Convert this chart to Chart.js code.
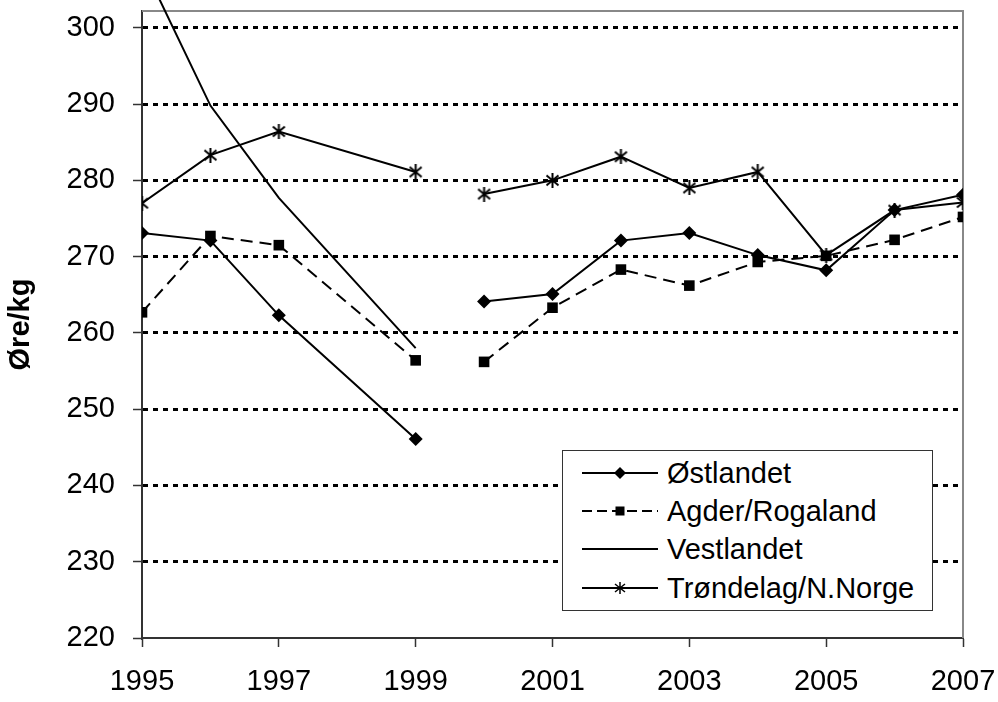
<!DOCTYPE html>
<html>
<head>
<meta charset="utf-8">
<script src="https://cdn.jsdelivr.net/npm/chart.js@4.4.1/dist/chart.umd.min.js"></script>
<style>
  body { margin: 0; background: #fff; font-family: 'Liberation Sans', Arial, sans-serif; }
  #wrap { position: relative; width: 998px; height: 702px; }
  #legend {
    position: absolute; left: 562px; top: 450px; width: 371px; height: 161px;
    box-sizing: border-box; border: 1.5px solid #333; background: #fff;
  }
  .row { position: absolute; left: 0; height: 38px; width: 100%; }
  .row svg { position: absolute; left: 19px; top: 9px; }
  .row span { position: absolute; left: 104px; top: 0; line-height: 38px; font-size: 29px; color: #000; white-space: nowrap; }
</style>
</head>
<body>
<div id="wrap">
  <canvas id="chart" width="998" height="702"></canvas>
  <div id="legend"></div>
</div>
<script>
// Data (øre per kg); 1998 is not in the series
const years = [1995, 1996, 1997, 1999, 2000, 2001, 2002, 2003, 2004, 2005, 2006, 2007];
const ostlandet  = [273.1, 272.1, 262.3, 246.1, 264.1, 265.1, 272.1, 273.1, 270.2, 268.2, 276.1, 278.1];
const agder      = [262.7, 272.7, 271.5, 256.4, 256.2, 263.3, 268.3, 266.2, 269.3, 270.1, 272.2, 275.2];
const vestlandet = [308.5, 289.8, 277.7, 258.0, null, null, null, null, null, null, null, null];
const trondelag  = [277.0, 283.3, 286.4, 281.1, 278.2, 280.0, 283.1, 279.0, 281.1, 270.2, 276.1, 277.1];
const seriesNames = ['Østlandet', 'Agder/Rogaland', 'Vestlandet', 'Trøndelag/N.Norge'];

const yMin = 220, yMax = 302.2, yStep = 10;
const xMin = 1995, xMax = 2007, xStep = 2;
const gapAfter = 1999; // the lines break between 1999 and 2000

const FONT = "'Liberation Sans', Arial, sans-serif";

function toPoints(values) {
    return years.map((x, i) => ({ x: x, y: values[i] }));
}

// no segment drawn across the gap
const breakSegment = ctx => ctx.p0.parsed.x === gapAfter ? 'rgba(0,0,0,0)' : undefined;

// Excel style asterisk marker (X with a vertical bar)
function starMarker() {
    const c = document.createElement('canvas');
    c.width = 15; c.height = 15;
    const g = c.getContext('2d');
    g.strokeStyle = '#000';
    g.lineWidth = 2;
    g.beginPath();
    g.moveTo(7.5, 0); g.lineTo(7.5, 15);
    g.moveTo(1.5, 2.5); g.lineTo(13.5, 12.5);
    g.moveTo(13.5, 2.5); g.lineTo(1.5, 12.5);
    g.stroke();
    return c;
}

const base = {
    borderColor: '#000',
    borderWidth: 2,
    backgroundColor: '#000',
    pointBackgroundColor: '#000',
    pointBorderColor: '#000',
    pointBorderWidth: 0,
    tension: 0,
    spanGaps: false,
    segment: { borderColor: breakSegment }
};

const datasets = [
    { ...base, label: seriesNames[0], data: toPoints(ostlandet), pointStyle: 'rectRot', pointRadius: 7 },
    { ...base, label: seriesNames[1], data: toPoints(agder), pointStyle: 'rect', pointRadius: 7.5, borderDash: [12, 7] },
    { ...base, label: seriesNames[2], data: toPoints(vestlandet), pointRadius: 0, clip: false },
    { ...base, label: seriesNames[3], data: toPoints(trondelag), pointStyle: starMarker(), pointRadius: 7 }
];

// grey frame on top and right of the plot area
const frame = {
    id: 'frame',
    beforeDatasetsDraw(chart) {
        const { ctx, chartArea: { left, top, right, bottom } } = chart;
        ctx.save();
        ctx.strokeStyle = '#888';
        ctx.lineWidth = 2;
        ctx.beginPath();
        ctx.moveTo(left, top);
        ctx.lineTo(right, top);
        ctx.lineTo(right, bottom);
        ctx.stroke();
        ctx.restore();
    }
};

new Chart(document.getElementById('chart'), {
    type: 'line',
    data: { datasets: datasets },
    plugins: [frame],
    options: {
        responsive: false,
        animation: false,
        devicePixelRatio: 1,
        layout: { padding: { top: 11, right: 35, left: 0, bottom: 0 } },
        plugins: { legend: { display: false }, tooltip: { enabled: false } },
        scales: {
            x: {
                type: 'linear', min: xMin, max: xMax,
                ticks: { stepSize: xStep, padding: 18, color: '#000', font: { family: FONT, size: 29 }, callback: v => String(v) },
                grid: { drawOnChartArea: false, drawTicks: true, tickLength: 9, tickColor: '#333', tickWidth: 1.5 },
                border: { color: '#333', width: 2 },
                afterFit: s => { s.height = 64; s.paddingLeft = 0; s.paddingRight = 0; }
            },
            y: {
                min: yMin, max: yMax, bounds: 'data',
                ticks: { stepSize: yStep, includeBounds: false, padding: 18, color: '#000', font: { family: FONT, size: 29 } },
                grid: {
                    color: ctx => (ctx.tick && ctx.tick.value === yMin) ? 'rgba(0,0,0,0)' : '#000',
                    lineWidth: 3,
                    tickLength: 9, tickColor: '#333', tickWidth: 1.5, tickBorderDash: []
                },
                border: { color: '#333', width: 2, dash: [5, 5] },
                title: { display: true, text: 'Øre/kg', color: '#000', font: { family: FONT, size: 29, weight: 'bold' }, padding: { top: 4, bottom: 0 } },
                afterFit: s => { s.width = 142; s.paddingTop = 0; s.paddingBottom = 0; }
            }
        }
    }
});

// HTML legend inside the plot area
const samples = [
    '<line x1="0" y1="10" x2="76" y2="10" stroke="#000" stroke-width="2"/><polygon points="38,4 44,10 38,16 32,10" fill="#000"/>',
    '<line x1="0" y1="10" x2="76" y2="10" stroke="#000" stroke-width="2" stroke-dasharray="10,5"/><rect x="33.5" y="5.5" width="9" height="9" fill="#000"/>',
    '<line x1="0" y1="10" x2="76" y2="10" stroke="#000" stroke-width="2"/>',
    '<line x1="0" y1="10" x2="76" y2="10" stroke="#000" stroke-width="2"/><path d="M38 4V16M33 6L43 14M43 6L33 14" stroke="#000" stroke-width="1.5"/>'
];
const rowTops = [3, 41, 79, 118];
document.getElementById('legend').innerHTML = seriesNames.map((name, i) => `
    <div class="row" style="top:${rowTops[i]}px">
        <svg width="76" height="20">${samples[i]}</svg>
        <span>${name}</span>
    </div>`).join('');
</script>
</body>
</html>
